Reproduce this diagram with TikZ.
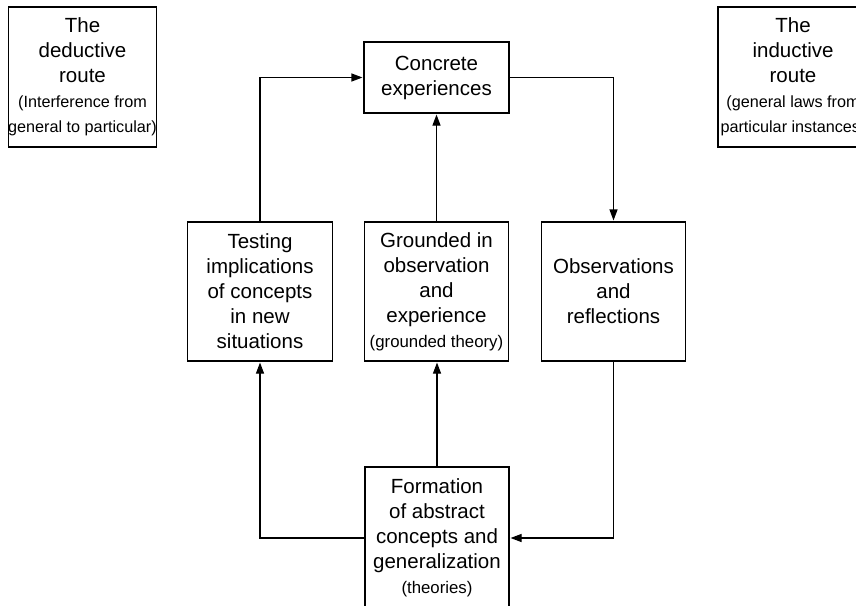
\documentclass[tikz,border=0pt]{standalone}
\usepackage{fontspec}
\setmainfont{Liberation Sans}
\usetikzlibrary{arrows.meta}

\newcommand{\smalltxt}[1]{{\fontsize{16.8}{25}\selectfont #1}}
\newcommand{\routetxt}[1]{{\fontsize{16.2}{25}\selectfont #1}}

\tikzset{
  bigfont/.style={font=\fontsize{20.5}{25}\selectfont},
  stagebox/.style={draw, line width=1.1pt, inner sep=0pt, align=center,
    minimum width=145pt, minimum height=139pt, bigfont},
  routebox/.style={draw, line width=1.1pt, inner sep=0pt, align=center,
    minimum height=140pt, bigfont},
  flow/.style={line width=1.1pt, -{Triangle[length=11pt,width=8pt]}, shorten >=1pt},
}

\begin{document}
\begin{tikzpicture}[x=1pt,y=1pt]
  \path[use as bounding box] (0,0) rectangle (856,-605);
  \clip (0,0) rectangle (856,-605);

  % the two routes in the top corners
  \node[routebox, minimum width=145pt] (deductive) at (82.5,-77)
    {The\\deductive\\route\\\routetxt{(Interference from}\\\routetxt{general to particular)}};
  \node[routebox, minimum width=150pt] (inductive) at (793,-77)
    {The\\inductive\\route\\\routetxt{(general laws from}\\\routetxt{particular instances)}};

  % the learning cycle
  \node[stagebox, minimum height=71pt] (concrete) at (436.5,-77.5)
    {Concrete\\experiences};
  \node[stagebox] (testing) at (260,-291.5)
    {Testing\\implications\\of concepts\\in new\\situations};
  \node[stagebox, minimum width=144pt] (grounded) at (436.5,-291.5)
    {Grounded in\\observation\\and\\experience\\\smalltxt{(grounded theory)}};
  \node[stagebox, minimum width=144pt] (observe) at (613.5,-291.5)
    {Observations\\and\\reflections};
  \node[stagebox, minimum width=144pt, minimum height=142pt] (formation) at (437,-538)
    {Formation\\of abstract\\concepts and\\generalization\\\smalltxt{(theories)}};

  % connectors
  \draw[flow] (testing.north) |- (concrete.west);
  \draw[flow] (grounded.north) -- (grounded.north |- concrete.south);
  \draw[flow] (concrete.east) -| (observe.north);
  \draw[flow] (observe.south) |- (formation.east);
  \draw[flow] (formation.north) -- (formation.north |- grounded.south);
  \draw[flow] (formation.west) -| (testing.south);
\end{tikzpicture}
\end{document}
